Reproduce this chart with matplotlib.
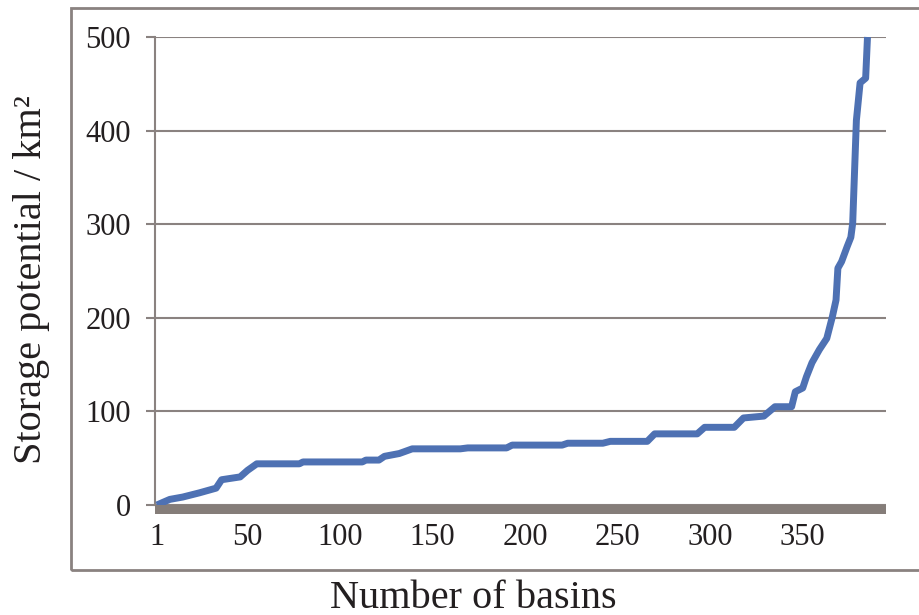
import matplotlib
matplotlib.use("Agg")
import matplotlib.pyplot as plt
from matplotlib.patches import Rectangle

# basins sorted by storage potential
basin_no = [1, 8, 15, 24, 33, 36, 46, 50, 55, 78, 80, 112, 114, 121, 124, 132,
            139, 165, 169, 190, 193, 220, 223, 242, 246, 266, 270, 293, 297,
            313, 318, 329, 335, 344, 346, 350, 352, 355, 359, 363, 366, 368,
            369, 371, 374, 376, 377, 379, 381, 384, 385]
storage_km2 = [0, 6, 8.5, 13, 18, 27, 30, 37, 44, 44, 46, 46, 48, 48, 52, 55,
               60, 60, 61, 61, 64, 64, 66, 66, 68, 68, 76, 76, 83,
               83, 93, 95, 105, 105, 121, 125, 137, 152, 166, 178, 201, 219,
               253, 260, 276, 286, 301, 411, 451, 456, 500]

x_ticks = [1, 50, 100, 150, 200, 250, 300, 350]
y_ticks = [0, 100, 200, 300, 400, 500]

plt.rcParams['font.family'] = ['Liberation Serif', 'DejaVu Serif']

gray = '#8a8280'
txt = '#231f20'

fig = plt.figure(figsize=(9.19, 6.15), dpi=100)
ax = fig.add_axes([155 / 919, 1 - 505 / 615, (886 - 155) / 919, (505 - 37) / 615])

ax.plot(basin_no, storage_km2, color='#4e71b3', lw=5, solid_capstyle='butt',
        solid_joinstyle='round', zorder=3, clip_on=False)

ax.set_xlim(0, 395)
ax.set_ylim(0, 500)
ax.set_xticks(x_ticks)
ax.set_yticks(y_ticks)
ax.yaxis.grid(True, color=gray, lw=1.5)
ax.set_axisbelow(True)

for s in ['top', 'right', 'bottom']:
    ax.spines[s].set_visible(False)
ax.spines['left'].set_color(gray)
ax.spines['left'].set_linewidth(1.5)

# thick gray category axis bar just under zero
ax.add_patch(Rectangle((0, -9 / 468), 1, 9 / 468, transform=ax.transAxes,
                       facecolor='#857d79', edgecolor='none', clip_on=False,
                       zorder=4))

ax.tick_params(axis='y', length=6.5, width=1.5, color=gray, pad=11,
               labelsize=22, labelcolor=txt)
ax.tick_params(axis='x', length=0, pad=13, labelsize=22, labelcolor=txt)

fig.text(473 / 919, 1 - 598 / 615, 'Number of basins', ha='center', va='center',
         fontsize=29, color=txt)
fig.text(32 / 919, 1 - 280 / 615, 'Storage potential / km\u00b2', ha='center',
         va='center', rotation=90, fontsize=29, color=txt)

fig.patches.append(Rectangle((71 / 919, 1 - 570 / 615), 0.99, (570 - 8) / 615,
                             transform=fig.transFigure, fill=False,
                             edgecolor=gray, lw=2, zorder=0))

fig.savefig('out.png', dpi=100)
